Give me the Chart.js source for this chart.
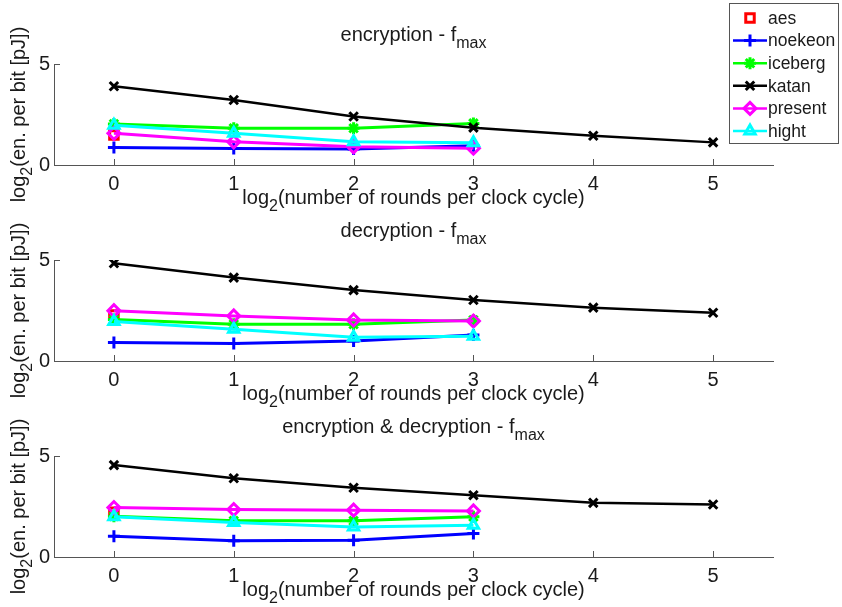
<!DOCTYPE html>
<html>
<head>
<meta charset="utf-8">
<script src="https://cdn.jsdelivr.net/npm/chart.js@4.4.1/dist/chart.umd.min.js"></script>
<style>
  html, body { margin: 0; padding: 0; background: #fff; }
  #wrap { position: relative; width: 842px; height: 607px; overflow: hidden; }
  .panel { position: absolute; left: 0; }
</style>
</head>
<body>
<div id="wrap">
  <canvas class="panel" id="c0" width="842" height="215" style="top:0px"></canvas>
  <canvas class="panel" id="c1" width="842" height="215" style="top:196px"></canvas>
  <canvas class="panel" id="c2" width="842" height="215" style="top:392px"></canvas>
</div>
<script>
// ---- data ----
const rounds = [0, 1, 2, 3, 4, 5];          // log2(rounds per clock cycle)
const xTicks = [0, 1, 2, 3, 4, 5];
const yTicks = [0, 5];

const cipherNames = ['aes', 'noekeon', 'iceberg', 'katan', 'present', 'hight'];
const panelTitles = ['encryption - f', 'decryption - f', 'encryption & decryption - f'];

// encryption
const encAes     = [1.48];
const encNoekeon = [0.87, 0.82, 0.79, 0.95];
const encIceberg = [2.03, 1.82, 1.82, 2.06];
const encKatan   = [3.90, 3.22, 2.40, 1.85, 1.45, 1.12];
const encPresent = [1.57, 1.15, 0.90, 0.83];
const encHight   = [1.97, 1.57, 1.15, 1.10];

// decryption
const decAes     = [2.28];
const decNoekeon = [0.92, 0.87, 0.99, 1.29];
const decIceberg = [2.06, 1.82, 1.82, 2.03];
const decKatan   = [4.84, 4.13, 3.51, 3.02, 2.64, 2.39];
const decPresent = [2.49, 2.23, 2.03, 1.98];
const decHight   = [1.95, 1.57, 1.17, 1.22];

// encryption & decryption
const bothAes     = [2.22];
const bothNoekeon = [1.03, 0.80, 0.83, 1.16];
const bothIceberg = [2.02, 1.79, 1.79, 1.99];
const bothKatan   = [4.55, 3.90, 3.43, 3.06, 2.68, 2.60];
const bothPresent = [2.45, 2.35, 2.32, 2.28];
const bothHight   = [1.99, 1.71, 1.49, 1.57];

const panels = [
  [encAes, encNoekeon, encIceberg, encKatan, encPresent, encHight],
  [decAes, decNoekeon, decIceberg, decKatan, decPresent, decHight],
  [bothAes, bothNoekeon, bothIceberg, bothKatan, bothPresent, bothHight]
];

// ---- styles ----
const colors = ['#ff0000', '#0000ff', '#00ff00', '#000000', '#ff00ff', '#00ffff'];
const markers = ['rect', 'cross', 'star', 'crossRot', 'rectRot', 'triangle'];
const markerSize = [6, 6, 6, 6, 6, 6];
const FONT = '"Liberation Sans", Arial, Helvetica, sans-serif';
const AXIS = '#555555';
const TEXT = '#1a1a1a';
const FS = 20, SUB = 16;
const CANVAS_H = 215;
const AREA_TOP = 64, AREA_BOTTOM = 165, AREA_LEFT = 54, AREA_RIGHT = 773;

// text with subscripts: parts = [[text, isSub], ...], centred on (0,0) of the current transform
function drawParts(ctx, parts, size, subSize) {
  let total = 0;
  parts.forEach(p => {
    ctx.font = (p[1] ? subSize : size) + 'px ' + FONT;
    total += ctx.measureText(p[0]).width;
  });
  let x = -total / 2;
  ctx.textAlign = 'left';
  ctx.textBaseline = 'middle';
  parts.forEach(p => {
    ctx.font = (p[1] ? subSize : size) + 'px ' + FONT;
    ctx.fillText(p[0], x, p[1] ? 9 : 0);
    x += ctx.measureText(p[0]).width;
  });
}

const decorPlugin = {
  id: 'decor',
  afterDraw(chart, args, opts) {
    const ctx = chart.ctx;
    const area = chart.chartArea;
    const xs = chart.scales.x, ys = chart.scales.y;
    ctx.save();
    // inward tick marks
    ctx.strokeStyle = AXIS;
    ctx.lineWidth = 1;
    ctx.beginPath();
    xTicks.forEach(v => {
      const px = Math.round(xs.getPixelForValue(v)) + 0.5;
      ctx.moveTo(px, area.bottom);
      ctx.lineTo(px, area.bottom - 6);
    });
    yTicks.forEach(v => {
      const py = Math.round(ys.getPixelForValue(v)) + 0.5;
      ctx.moveTo(area.left, py);
      ctx.lineTo(area.left + 6, py);
    });
    ctx.stroke();

    ctx.fillStyle = TEXT;
    const cx = (area.left + area.right) / 2;
    // title
    ctx.save();
    ctx.translate(cx, 35);
    drawParts(ctx, [[opts.title, false], ['max', true]], FS, SUB);
    ctx.restore();
    // x label
    ctx.save();
    ctx.translate(cx, 198);
    drawParts(ctx, [['log', false], ['2', true], ['(number of rounds per clock cycle)', false]], FS, SUB);
    ctx.restore();
    // y label
    ctx.save();
    ctx.translate(19, (area.top + area.bottom) / 2);
    ctx.rotate(-Math.PI / 2);
    drawParts(ctx, [['log', false], ['2', true], ['(en. per bit [pJ])', false]], FS, SUB);
    ctx.restore();

    // legend (first panel only)
    if (opts.legend) {
      const bx = 729, by = 3, bw = 109, bh = 140;
      ctx.fillStyle = '#ffffff';
      ctx.fillRect(bx, by, bw, bh);
      ctx.strokeStyle = AXIS;
      ctx.lineWidth = 1;
      ctx.strokeRect(bx + 0.5, by + 0.5, bw, bh);
      cipherNames.forEach((name, i) => {
        const y = 18 + i * 22.6;
        ctx.strokeStyle = colors[i];
        ctx.lineWidth = 2.5;
        if (i > 0) {
          ctx.beginPath();
          ctx.moveTo(733, y);
          ctx.lineTo(767, y);
          ctx.stroke();
        }
        ctx.lineWidth = 3;
        ctx.fillStyle = 'rgba(0,0,0,0)';
        Chart.helpers.drawPoint(ctx, { pointStyle: markers[i], radius: markerSize[i], borderWidth: 3 }, 750, y);
        ctx.fillStyle = TEXT;
        ctx.font = '17.5px ' + FONT;
        ctx.textAlign = 'left';
        ctx.textBaseline = 'middle';
        ctx.fillText(name, 768, y + 1);
      });
    }
    ctx.restore();
  }
};

function makeChart(id, k) {
  const series = panels[k];
  const datasets = series.map((vals, i) => ({
    label: cipherNames[i],
    data: vals.map((v, j) => ({ x: rounds[j], y: v })),
    borderColor: colors[i],
    backgroundColor: colors[i],
    borderWidth: i === 3 ? 2.5 : 3,
    showLine: vals.length > 1,
    pointStyle: markers[i],
    pointRadius: markerSize[i],
    pointBorderWidth: 3,
    pointBackgroundColor: 'rgba(0,0,0,0)',
    pointBorderColor: colors[i],
    tension: 0,
    order: series.length - i
  }));

  new Chart(document.getElementById(id), {
    type: 'scatter',
    data: { datasets },
    options: {
      responsive: false,
      animation: false,
      devicePixelRatio: 1,
      layout: { padding: { top: AREA_TOP, right: 842 - AREA_RIGHT, left: 0, bottom: 0 } },
      plugins: {
        legend: { display: false },
        tooltip: { enabled: false },
        decor: { title: panelTitles[k], legend: k === 0 }
      },
      scales: {
        x: {
          type: 'linear',
          min: -0.5,
          max: 5.5,
          afterBuildTicks: s => { s.ticks = xTicks.map(v => ({ value: v })); },
          afterFit: s => { s.height = CANVAS_H - AREA_BOTTOM; },
          grid: { display: false, drawTicks: false },
          border: { display: true, color: AXIS, width: 1 },
          ticks: { color: TEXT, font: { size: FS, family: FONT }, padding: 7, maxRotation: 0 }
        },
        y: {
          min: 0,
          max: 5,
          afterBuildTicks: s => { s.ticks = yTicks.map(v => ({ value: v })); },
          afterFit: s => { s.width = AREA_LEFT; },
          grid: { display: false, drawTicks: false },
          border: { display: true, color: AXIS, width: 1 },
          ticks: { color: TEXT, font: { size: FS, family: FONT }, padding: 4 }
        }
      }
    },
    plugins: [decorPlugin]
  });
}

makeChart('c0', 0);
makeChart('c1', 1);
makeChart('c2', 2);
</script>
</body>
</html>
